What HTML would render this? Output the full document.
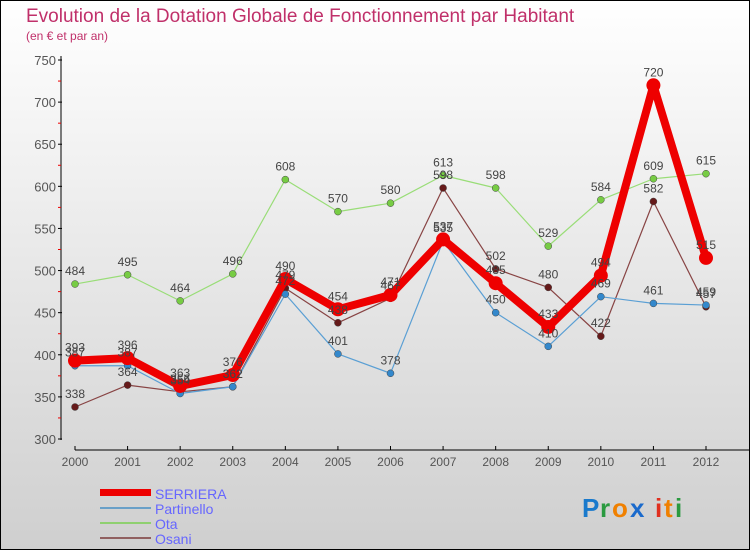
<!DOCTYPE html>
<html><head><meta charset="utf-8"><style>
body{margin:0}
svg{display:block;font-family:"Liberation Sans",sans-serif}
</style></head><body>
<svg width="750" height="550">
<defs><linearGradient id="bg" x1="0" y1="0" x2="0" y2="1"><stop offset="0" stop-color="#ffffff"/><stop offset="1" stop-color="#cfcfcf"/></linearGradient></defs>
<rect x="0.5" y="0.5" width="749" height="549" fill="url(#bg)" stroke="#000"/>
<text x="26" y="22" font-size="19" fill="#c0306a">Evolution de la Dotation Globale de Fonctionnement par Habitant</text>
<text x="26" y="40" font-size="12" fill="#c0306a">(en € et par an)</text>
<g id="axes"></g>
<g id="series"></g>
<g id="labels"></g>
<g>
<rect x="100" y="489" width="51" height="7" fill="#e00"/>
<text x="155" y="499" font-size="14" fill="#6666ff">SERRIERA</text>
<rect x="100" y="507" width="51" height="2" fill="#6aa0c8"/>
<text x="155" y="514" font-size="14" fill="#6666ff">Partinello</text>
<rect x="100" y="522" width="51" height="2" fill="#8fd070"/>
<text x="155" y="529" font-size="14" fill="#6666ff">Ota</text>
<rect x="100" y="537" width="51" height="2" fill="#906060"/>
<text x="155" y="544" font-size="14" fill="#6666ff">Osani</text>
</g>
<g font-size="26" font-weight="bold">
<text x="582" y="517" fill="#1a7acc">P</text><text x="600" y="517" fill="#2a9a40">r</text><text x="612" y="517" fill="#f08000">o</text><text x="630" y="517" fill="#1a6acc">x</text><text x="655" y="517" fill="#e03020">i</text><text x="664" y="517" fill="#f08000">t</text><text x="675" y="517" fill="#2a9a40">i</text>
</g>
</svg>
<script>
const years=[2000,2001,2002,2003,2004,2005,2006,2007,2008,2009,2010,2011,2012];
const serriera=[393,396,363,376,490,454,471,537,485,433,494,720,515];
const partinello=[387,387,354,362,472,401,378,535,450,410,469,461,459];
const ota=[484,495,464,496,608,570,580,613,598,529,584,609,615];
const osani=[338,364,356,362,479,438,467,598,502,480,422,582,457];
const yTicks=[300,350,400,450,500,550,600,650,700,750];
const NS="http://www.w3.org/2000/svg";
function x(i){return 75+i*(706-75)/(years.length-1);}
function y(v){return 439-(v-300)*(439-60)/450;}
function mk(tag,attrs,parent,text){const e=document.createElementNS(NS,tag);for(const k in attrs)e.setAttribute(k,attrs[k]);if(text!==undefined)e.textContent=text;parent.appendChild(e);return e;}
const axes=document.getElementById('axes');
let ya=mk('line',{x1:61,y1:56,x2:61,y2:440,stroke:'#000'},axes);


yTicks.forEach((t,i)=>{
 mk('line',{x1:58,y1:y(t),x2:62,y2:y(t),stroke:'#000'},axes);
 let tl=mk('text',{x:56,y:y(t)+5,'font-size':13,fill:'#555','text-anchor':'end'},axes,String(t));
 
 
 if(i<yTicks.length-1) mk('line',{x1:58,y1:y(t+25),x2:61,y2:y(t+25),stroke:'#e00'},axes);
});
let xa=mk('line',{x1:75,y1:450,x2:750,y2:450,stroke:'#000'},axes);


years.forEach((yr,i)=>{
 mk('line',{x1:x(i),y1:446,x2:x(i),y2:450,stroke:'#000'},axes);
 let tl=mk('text',{x:x(i),y:466,'font-size':12,fill:'#555','text-anchor':'middle'},axes,String(yr));
 
 
});
const sg=document.getElementById('series'),lg=document.getElementById('labels');
function draw(data,name,color,dot,w,r){
 const g=mk('g',{},sg);
 
 
 const p=mk('polyline',{points:data.map((v,i)=>x(i)+','+y(v)).join(' '),fill:'none',stroke:color,'stroke-width':w,'stroke-linejoin':'round'},g);
 
 
 data.forEach((v,i)=>{
  const c=mk('circle',{cx:x(i),cy:y(v),r:r,fill:dot,stroke:w>3?'none':'#444','stroke-width':0.5},g);
  
  
  const t=mk('text',{x:x(i),y:y(v)-9,'font-size':12,fill:'#444','text-anchor':'middle'},lg,String(v));
  
  
 });
}
draw(ota,'ota','#99dd77','#77cc44',1.2,3.5);
draw(osani,'osani','#884444','#661a1a',1.2,3.5);
draw(partinello,'partinello','#5a9fd4','#3388cc',1.2,3.5);
draw(serriera,'serriera','#ee0000','#ee0000',8,7);
</script>
</body></html>
